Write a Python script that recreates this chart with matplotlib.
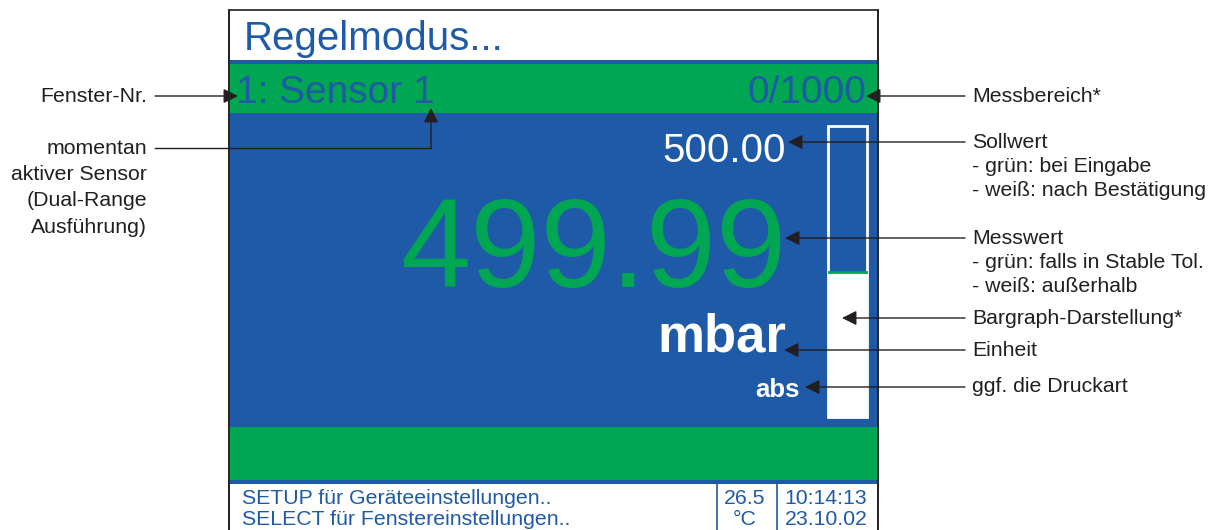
import matplotlib.pyplot as plt
from matplotlib.patches import Rectangle
from matplotlib import font_manager

# ---- display content ----
TITLE = "Regelmodus..."
WINDOW_LABEL = "1: Sensor 1"
RANGE_MIN = 0
RANGE_MAX = 1000
SETPOINT = 500.00
MEASURED = 499.99
UNIT = "mbar"
PRESSURE_TYPE = "abs"
STATUS_LINES = ["SETUP für Geräteeinstellungen..", "SELECT für Fenstereinstellungen.."]
TEMPERATURE = "26.5"
TEMP_UNIT = "°C"
TIME = "10:14:13"
DATE = "23.10.02"

# ---- annotation texts ----
LEFT_LABELS = ["Fenster-Nr.", "momentan\naktiver Sensor\n(Dual-Range\nAusführung)"]
RIGHT_LABELS = [
    "Messbereich*",
    "Sollwert\n- grün: bei Eingabe\n- weiß: nach Bestätigung",
    "Messwert\n- grün: falls in Stable Tol.\n- weiß: außerhalb",
    "Bargraph-Darstellung*",
    "Einheit",
    "ggf. die Druckart",
]

BLUE = "#1e5aa8"
GREEN = "#00a651"
INK = "#231f20"

names = {f.name for f in font_manager.fontManager.ttflist}
NARROW = "Liberation Sans Narrow" if "Liberation Sans Narrow" in names else "Liberation Sans"
SANS = "Liberation Sans"

fig = plt.figure(figsize=(12.1, 5.3), dpi=100)
ax = fig.add_axes([0, 0, 1, 1])
ax.set_xlim(0, 1210)
ax.set_ylim(530, 0)
ax.axis("off")

# screen layout (pixel coords)
X0, X1 = 229, 878
ax.add_patch(Rectangle((X0, 10), X1 - X0, 540, facecolor="white", edgecolor=INK, lw=1.2, zorder=1))
ax.add_patch(Rectangle((X0, 60), X1 - X0, 4, facecolor=BLUE, lw=0, zorder=2))
ax.add_patch(Rectangle((X0, 64), X1 - X0, 49, facecolor=GREEN, lw=0, zorder=2))
ax.add_patch(Rectangle((X0, 113), X1 - X0, 314, facecolor=BLUE, lw=0, zorder=2))
ax.add_patch(Rectangle((X0, 427), X1 - X0, 53, facecolor=GREEN, lw=0, zorder=2))
ax.add_patch(Rectangle((X0, 480), X1 - X0, 4, facecolor=BLUE, lw=0, zorder=2))
ax.plot([X0, X0], [10, 530], color=INK, lw=1.2, zorder=3)
ax.plot([X1, X1], [10, 530], color=INK, lw=1.2, zorder=3)

ax.text(244, 50, TITLE, color=BLUE, fontsize=29, family=NARROW, va="baseline", ha="left", zorder=4)
ax.text(236, 103, WINDOW_LABEL, color=BLUE, fontsize=28, family=NARROW, va="baseline", ha="left", zorder=4)
ax.text(866, 103, f"{RANGE_MIN}/{RANGE_MAX}", color=BLUE, fontsize=28, family=NARROW,
        va="baseline", ha="right", zorder=4)

ax.text(786, 162, f"{SETPOINT:.2f}", color="white", fontsize=29, family=NARROW,
        va="baseline", ha="right", zorder=4)
ax.text(786, 287, f"{MEASURED:.2f}", color=GREEN, fontsize=91, family=NARROW,
        va="baseline", ha="right", zorder=4)
ax.text(786, 352, UNIT, color="white", fontsize=38, family=SANS, weight="bold",
        va="baseline", ha="right", zorder=4)
ax.text(800, 397, PRESSURE_TYPE, color="white", fontsize=18.5, family=SANS, weight="bold",
        va="baseline", ha="right", zorder=4)

# bargraph
BY0, BY1, BXL, BW = 126, 417, 828, 39
frac = (MEASURED - RANGE_MIN) / (RANGE_MAX - RANGE_MIN)
fill_top = BY1 - frac * (BY1 - BY0)
ax.add_patch(Rectangle((BXL, BY0), BW, BY1 - BY0, facecolor=BLUE, edgecolor="white", lw=2, zorder=4))
ax.add_patch(Rectangle((BXL, fill_top), BW, BY1 - fill_top, facecolor="white", lw=0, zorder=5))
ax.plot([BXL + 1, BXL + BW - 1], [fill_top, fill_top], color=GREEN, lw=2, zorder=6)

# status bar
for i, line in enumerate(STATUS_LINES):
    ax.text(242, 504 + i * 21, line, color=BLUE, fontsize=15.3, family=NARROW, va="baseline",
            ha="left", zorder=4)
ax.plot([717, 717], [484, 530], color=BLUE, lw=1.2, zorder=4)
ax.plot([777, 777], [484, 530], color=BLUE, lw=1.2, zorder=4)
ax.text(745, 504, TEMPERATURE, color=BLUE, fontsize=15.3, family=NARROW, va="baseline", ha="center", zorder=4)
ax.text(745, 525, TEMP_UNIT, color=BLUE, fontsize=15.3, family=NARROW, va="baseline", ha="center", zorder=4)
ax.text(826, 504, TIME, color=BLUE, fontsize=15.3, family=NARROW, va="baseline", ha="center", zorder=4)
ax.text(826, 525, DATE, color=BLUE, fontsize=15.3, family=NARROW, va="baseline", ha="center", zorder=4)

arrow = dict(arrowstyle="-|>", color=INK, lw=1, mutation_scale=22, shrinkA=0, shrinkB=0)
FS = 15.3


def label_lines(x, y, text, ha, step):
    for i, line in enumerate(text.split("\n")):
        ax.text(x, y + i * step, line, color=INK, fontsize=FS, family=SANS, va="center", ha=ha)


# left annotations
left_y = [96, 148]
label_lines(147, left_y[0], LEFT_LABELS[0], "right", 26)
ax.annotate("", xy=(238, left_y[0]), xytext=(155, left_y[0]), arrowprops=arrow, zorder=7)
label_lines(147, left_y[1], LEFT_LABELS[1], "right", 26.5)
ax.plot([155, 431], [left_y[1], left_y[1]], color=INK, lw=1, zorder=7)
ax.annotate("", xy=(431, 108), xytext=(431, left_y[1]), arrowprops=arrow, zorder=7)

# right annotations
right_y = [96, 142, 238, 318, 350, 387]
right_tip = [866, 788, 785, 842, 784, 805]
for label, y, tip in zip(RIGHT_LABELS, right_y, right_tip):
    label_lines(972, y, label, "left", 24.5)
    ax.annotate("", xy=(tip, y), xytext=(965, y), arrowprops=arrow, zorder=7)

fig.savefig("out.png", dpi=100)
